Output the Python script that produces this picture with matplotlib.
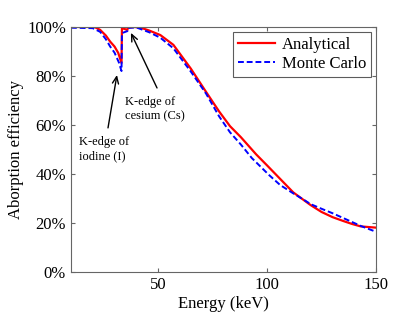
import matplotlib
matplotlib.use("Agg")
import matplotlib.pyplot as plt
from matplotlib.ticker import FuncFormatter

plt.rcParams['font.family'] = ['Liberation Serif', 'DejaVu Serif']

energy_analytical = [10, 20, 21, 23.4, 26, 28, 30, 31.7, 33.2, 33.4, 35.9, 36.1, 39, 42,
                     46, 51, 57, 65, 72, 78, 83, 88, 95, 100, 106,
                     112, 120, 125, 130, 135, 139, 143, 150]
eff_analytical = [100, 100, 99.9, 98.8, 96.5, 94, 92, 89.4, 85.3, 99.5, 98.8, 99.7, 100, 99.7,
                  98.5, 96.7, 92.7, 83, 73.5, 65.5, 59.5, 55, 48, 43.5, 38,
                  32.5, 27.3, 24.5, 22.4, 20.8, 19.6, 18.6, 18.1]

energy_mc = [10, 20, 23.4, 26, 28, 30, 32, 33.2, 33.4, 35.9, 36.1, 40, 46, 51,
             57, 65, 72, 78, 83, 88, 93, 97, 101, 106, 112,
             117, 120, 125, 130, 135, 139, 143, 150]
eff_mc = [99.7, 99.5, 98, 95, 92, 89.5, 85.5, 82, 97.5, 98.3, 99.6, 99.8, 97.8, 95.6,
          91.3, 81.8, 72.8, 63.5, 57, 52, 46.5, 43, 39.5, 35.5, 32.1,
          29.4, 27.7, 25.8, 24, 22, 20.4, 18.8, 16.4]

x_ticks = [50, 100, 150]
y_ticks = [0, 20, 40, 60, 80, 100]

fig = plt.figure(figsize=(4.15, 3.17), dpi=100)
ax = fig.add_axes([0.171, 0.142, 0.735, 0.773])

ax.plot(energy_analytical, eff_analytical, color='#ff0000', lw=1.6, label='Analytical')
ax.plot(energy_mc, eff_mc, color='#0000ff', lw=1.4, ls=(0, (3, 1.5)), label='Monte Carlo')

ax.set_xlim(10, 150)
ax.set_ylim(0, 100)
ax.set_xticks(x_ticks)
ax.set_yticks(y_ticks)
ax.yaxis.set_major_formatter(FuncFormatter(lambda v, p: f"{v:.0f}%"))
ax.tick_params(direction='in', length=3, labelsize=12, top=True, right=True, color='#666666')
for s in ax.spines.values():
    s.set_color('#666666')
    s.set_linewidth(0.8)

ax.set_xlabel('Energy (keV)', fontsize=12, labelpad=2)
ax.set_ylabel('Aborption efficiency', fontsize=12, labelpad=2)

leg = ax.legend(loc='upper right', fontsize=12, frameon=True, fancybox=False,
                edgecolor='#333333', borderpad=0.3, handlelength=2.2,
                handletextpad=0.4, labelspacing=0.2, borderaxespad=0.3)
leg.get_frame().set_linewidth(0.8)

arrow = dict(arrowstyle='->,head_length=0.5,head_width=0.22', color='black', lw=1.0,
             shrinkA=0, shrinkB=0)
ax.text(13.7, 55.5, 'K-edge of\niodine (I)', fontsize=9, ha='left', va='top')
ax.annotate('', xy=(31.1, 80.4), xytext=(27.0, 58.8), arrowprops=arrow)
ax.text(34.8, 71.8, 'K-edge of\ncesium (Cs)', fontsize=9, ha='left', va='top')
ax.annotate('', xy=(37.5, 97.6), xytext=(49.5, 75.1), arrowprops=arrow)

fig.savefig('out.png', dpi=100)
